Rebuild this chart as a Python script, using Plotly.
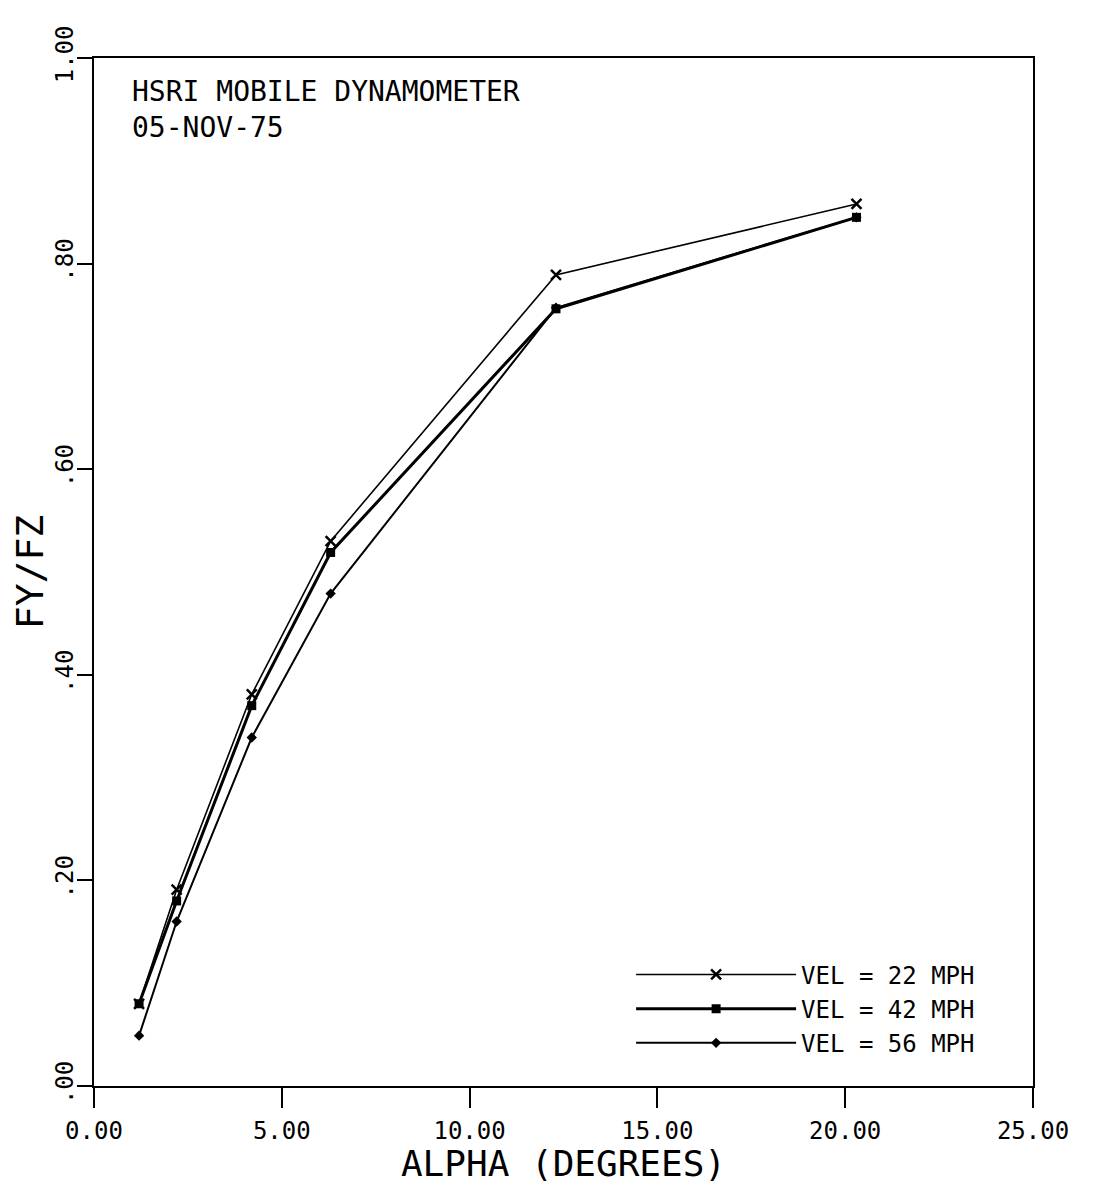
import plotly.graph_objects as go

alpha = [1.2, 2.2, 4.2, 6.3, 12.3, 20.3]
fy_22 = [0.080, 0.191, 0.381, 0.530, 0.789, 0.858]
fy_42 = [0.080, 0.180, 0.370, 0.519, 0.756, 0.845]
fy_56 = [0.049, 0.160, 0.339, 0.479, 0.757, 0.845]
series_names = ["VEL = 22 MPH", "VEL = 42 MPH", "VEL = 56 MPH"]

x_ticks = [0, 5, 10, 15, 20, 25]
x_tick_labels = ["0.00", "5.00", "10.00", "15.00", "20.00", "25.00"]
y_ticks = [0, 0.2, 0.4, 0.6, 0.8, 1.0]
y_tick_labels = [".00", ".20", ".40", ".60", ".80", "1.00"]

FONT = "DejaVu Sans Mono"

fig = go.Figure()
fig.add_trace(go.Scatter(x=alpha, y=fy_22, name=series_names[0], mode="lines+markers",
                         line=dict(color="black", width=1.6),
                         marker=dict(symbol="x-thin", size=10, line=dict(color="black", width=2.5))))
fig.add_trace(go.Scatter(x=alpha, y=fy_42, name=series_names[1], mode="lines+markers",
                         line=dict(color="black", width=3),
                         marker=dict(symbol="square", size=9, color="black")))
fig.add_trace(go.Scatter(x=alpha, y=fy_56, name=series_names[2], mode="lines+markers",
                         line=dict(color="black", width=2),
                         marker=dict(symbol="diamond", size=8, color="black")))

fig.update_layout(
    width=1093, height=1176,
    margin=dict(l=86, r=68, t=50, b=98),
    paper_bgcolor="white", plot_bgcolor="white",
    font=dict(family=FONT, color="black", size=24),
    showlegend=True,
    legend=dict(x=0.572, y=0.130, xanchor="left", yanchor="top",
                bgcolor="rgba(0,0,0,0)", itemwidth=160,
                font=dict(family=FONT, size=24, color="black"),
                tracegroupgap=0),
    annotations=[
        dict(text="HSRI MOBILE DYNAMOMETER<br>05-NOV-75", xref="paper", yref="paper",
             x=0.038, y=0.985, xanchor="left", yanchor="top", showarrow=False, align="left",
             font=dict(family=FONT, size=28, color="black")),
    ],
)

fig.update_xaxes(
    range=[0, 25], tickvals=x_ticks, ticktext=x_tick_labels,
    showgrid=False, zeroline=False, showline=True, linecolor="black", linewidth=2,
    mirror=True, ticks="outside", ticklen=20, tickwidth=2, tickcolor="black",
    tickfont=dict(family=FONT, size=24), ticklabelstandoff=2,
    title=dict(text="ALPHA (DEGREES)", font=dict(family=FONT, size=36), standoff=0),
)
fig.update_yaxes(
    range=[0, 1.0], tickvals=y_ticks, ticktext=y_tick_labels,
    showgrid=False, zeroline=False, showline=True, linecolor="black", linewidth=2,
    mirror=True, ticks="outside", ticklen=15, tickwidth=2, tickcolor="black",
    tickangle=-90, tickfont=dict(family=FONT, size=24), ticklabelstandoff=-6,
    title=dict(text="FY/FZ", font=dict(family=FONT, size=38), standoff=2),
)

fig.write_html("out.html")
